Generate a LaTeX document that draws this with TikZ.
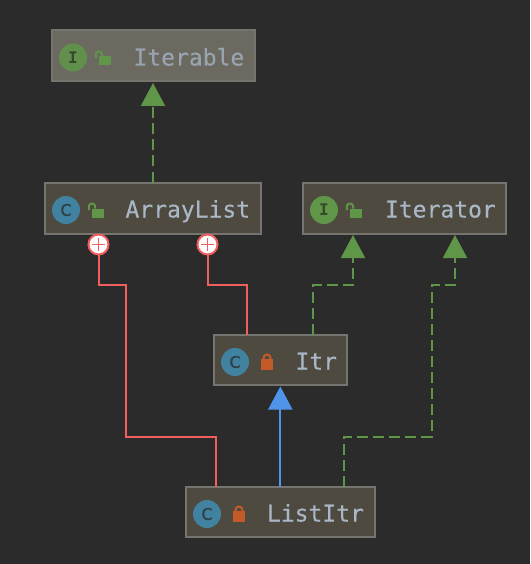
\documentclass[tikz,border=0pt]{standalone}
\usepackage{fontspec}
\setmonofont{DejaVu Sans Mono}
\setsansfont{DejaVu Sans}
\newfontfamily\labelfont[FakeBold=0.25]{DejaVu Sans Mono}
\newfontfamily\iconfont[FakeBold=0.5]{DejaVu Sans}
\usetikzlibrary{arrows.meta,calc}
\definecolor{bgc}{HTML}{2B2B2B}
\definecolor{boxc}{HTML}{4E4A40}
\definecolor{boxfaded}{HTML}{6C6A60}
\definecolor{edgec}{HTML}{75746F}
\definecolor{txtc}{HTML}{A9B7C6}
\definecolor{txtfaded}{HTML}{98A4B0}
\definecolor{greenc}{HTML}{5F9648}
\definecolor{redc}{HTML}{F25E5E}
\definecolor{bluec}{HTML}{4F94E8}
\definecolor{tealc}{HTML}{40829F}
\definecolor{orangec}{HTML}{C45A28}
\definecolor{lettc}{HTML}{2F3F46}
\definecolor{lettg}{HTML}{36492B}
\tikzset{
  umlbox/.style={draw=edgec,line width=2pt,fill=boxc,rectangle,inner sep=0pt,outer sep=0pt},
  fadedbox/.style={umlbox,fill=boxfaded},
  boxlabel/.style={anchor=base west,inner sep=0pt,outer sep=0pt,text=txtc,font=\labelfont\fontsize{23}{23}\selectfont},
  classicon/.style={circle,fill=tealc,minimum size=28pt,inner sep=0pt,outer sep=0pt,text=lettc,font=\iconfont\fontsize{16}{16}\selectfont},
  ifaceicon/.style={circle,fill=greenc,minimum size=28pt,inner sep=0pt,outer sep=0pt,text=lettg,font=\ttfamily\bfseries\fontsize{16}{16}\selectfont},
  depline/.style={draw=greenc,line width=2pt,dash pattern=on 11pt off 5pt,-{Triangle[length=23pt,width=24pt,fill=greenc,color=greenc,sep=0pt]},shorten >=1.5pt},
  inhline/.style={draw=bluec,line width=2pt,-{Triangle[length=23pt,width=24pt,fill=bluec,color=bluec]},shorten >=1.5pt},
  innerline/.style={draw=redc,line width=2pt},
  plusmark/.style={circle,draw=redc,line width=2pt,fill=white,minimum size=20pt,inner sep=0pt,outer sep=0pt,
    path picture={\draw[redc,line width=1.7pt] ([xshift=-6.5pt]path picture bounding box.center) -- ([xshift=6.5pt]path picture bounding box.center)
      ([yshift=-6.5pt]path picture bounding box.center) -- ([yshift=6.5pt]path picture bounding box.center);}},
  pics/openlock/.style={code={
    \fill[greenc] (0,0) rectangle (12,9);
    \draw[greenc,line width=2pt] (-3.2,1.5) -- (-3.2,-2.2) arc[start angle=180,end angle=0,x radius=3.2,y radius=-2.8] -- (3.2,0);
  }},
  pics/closedlock/.style={code={
    \fill[orangec] (0,0) rectangle (12,11);
    \draw[orangec,line width=2pt] (2.6,0) -- (2.6,-1.5) arc[start angle=180,end angle=0,x radius=3.4,y radius=-3] -- (9.4,0);
  }},
}
\begin{document}
\begin{tikzpicture}[x=1pt,y=-1pt]
\useasboundingbox (0,0) rectangle (530,564);
\fill[bgc] (0,0) rectangle (530,564);

% boxes
\node[fadedbox,minimum width=203pt,minimum height=51pt] (iterable) at (153,56) {};
\node[umlbox,minimum width=216pt,minimum height=51pt] (arraylist) at (152.5,208) {};
\node[umlbox,minimum width=203pt,minimum height=51pt] (iterator) at (404,208) {};
\node[umlbox,minimum width=133pt,minimum height=50pt] (itr) at (280,360) {};
\node[umlbox,minimum width=189pt,minimum height=50pt] (listitr) at (280,512) {};

% labels
\node[boxlabel,text=txtfaded] (t1) at (133.5,65.5) {Iterable};
\node[boxlabel] (t2) at (125.5,217.5) {ArrayList};
\node[boxlabel] (t3) at (385,217.5) {Iterator};
\node[boxlabel] (t4) at (295.5,369.5) {Itr};
\node[boxlabel] (t5) at (267,521.5) {ListItr};

% icons
\node[ifaceicon,fill=greenc!85!boxfaded] (i1) at (73,57.5) {I};
\node[classicon] (i2) at (66,210) {C};
\node[ifaceicon] (i3) at (324,210) {I};
\node[classicon] (i4) at (235,362) {C};
\node[classicon] (i5) at (207,514) {C};

% locks
\pic at (99,56.5) {openlock};
\pic at (92,208.5) {openlock};
\pic at (350,208.5) {openlock};
\pic at (261,359) {closedlock};
\pic at (233,511) {closedlock};

% inner-class markers
\node[plusmark] (p1) at (98.5,244.5) {};
\node[plusmark] (p2) at (207.5,244.5) {};

% connectors
\draw[depline] (iterable.south |- arraylist.north) -- (iterable.south);
\draw[depline] ([xshift=33pt]itr.north) -- ++(0,-50.5) -| ([xshift=-51pt]iterator.south);
\draw[depline] ([xshift=63.5pt]listitr.north) -- ++(0,-50.5) -- ++(88,0) -- ++(0,-152) -| ([xshift=51pt]iterator.south);
\draw[inhline] ([xshift=0.3pt]listitr.north) -- ([xshift=0.3pt]itr.south);
\draw[innerline] (p1.south) -- ++(0,30) -- ++(27.7,0) -- ++(0,152) -| ([xshift=-63.7pt]listitr.north);
\draw[innerline] (p2.south) -- ++(0,30) -| ([xshift=-33.5pt]itr.north);
\end{tikzpicture}
\end{document}
